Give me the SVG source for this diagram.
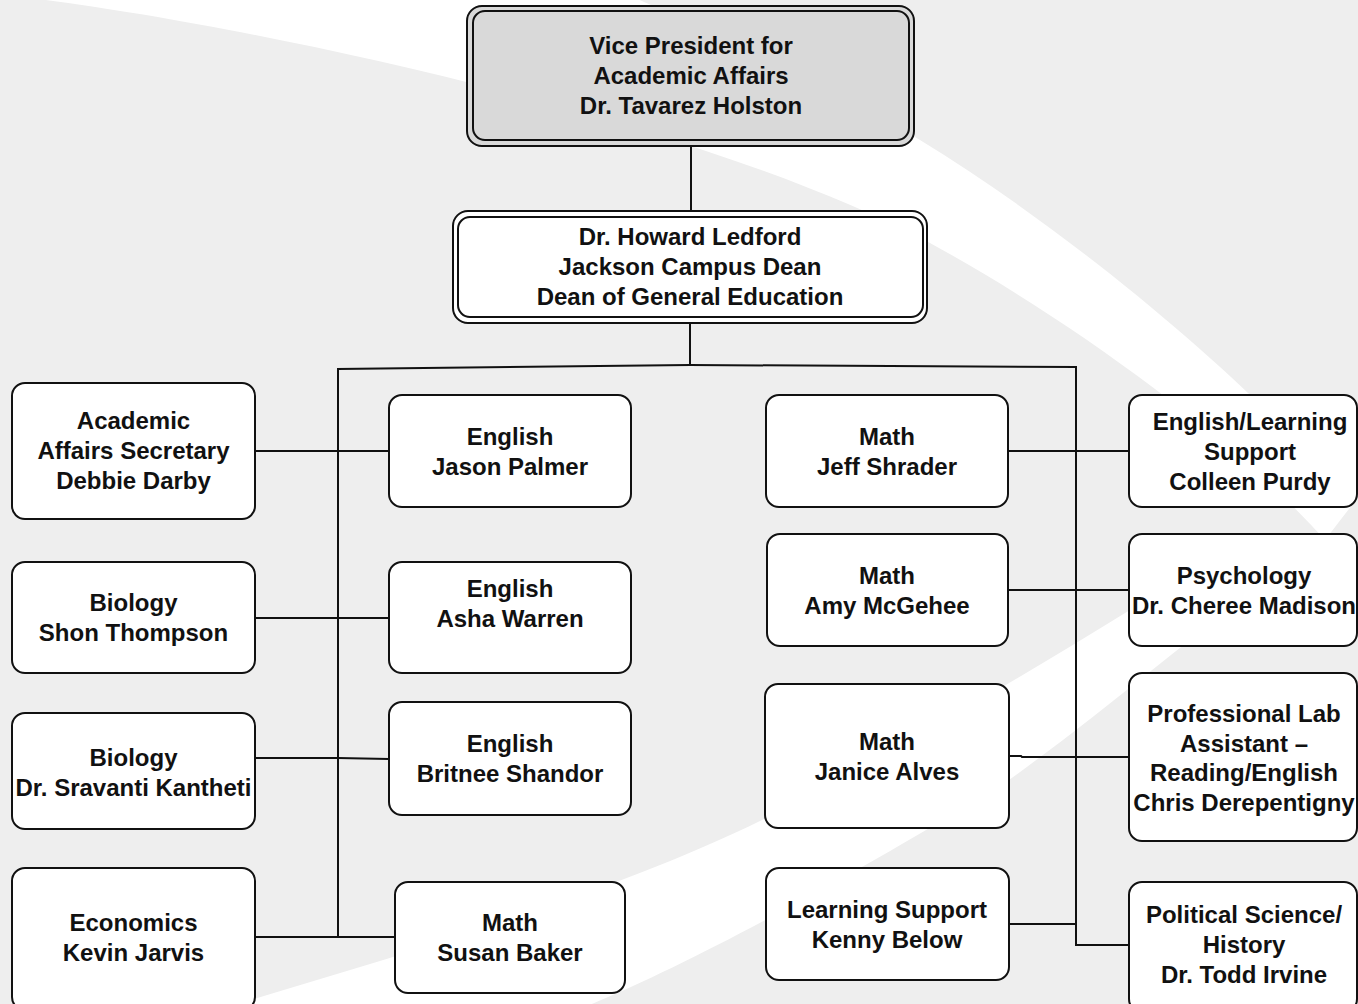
<svg xmlns="http://www.w3.org/2000/svg" width="1358" height="1004" viewBox="0 0 1358 1004">
<style>
.bg{fill:#ffffff;stroke:none}
.box{fill:#ffffff;stroke:#111111;stroke-width:2}
.vp{fill:#d9d9d9;stroke:#111111;stroke-width:2}
.dn{fill:#ffffff;stroke:#111111;stroke-width:2}
.t{font-family:"Liberation Sans",Arial,sans-serif;font-weight:bold;font-size:24px;fill:#111111;text-anchor:middle}
.c{fill:none;stroke:#111111;stroke-width:2}
</style>
<rect x="0" y="0" width="1358" height="1004" fill="#eeeeee"/>
<g id="background">
<path class="bg" d="M30,-2 C250,25 700,120 930,243 C1080,325 1240,445 1325,540 L1352,505 C1290,420 1100,250 920,140 C820,80 720,35 635,-2 Z"/>
<path class="bg" d="M230,1006 C420,950 620,890 762,820 C880,760 1000,690 1130,610 C1220,560 1290,545 1325,540 C1220,610 1120,700 1009,780 C880,860 700,960 587,1006 Z"/>
</g>
<g id="connectors">
<path class="c" d="M691,146 V211"/>
<path class="c" d="M690,323 V365"/>
<path class="c" d="M338,938 V369 L690,365 L1076,367 V945 H1129"/>
<path class="c" d="M255,451 H389"/>
<path class="c" d="M255,618 H389"/>
<path class="c" d="M255,758 H338 L389,759"/>
<path class="c" d="M255,937 H395"/>
<path class="c" d="M1008,451 H1129"/>
<path class="c" d="M1008,590 H1129"/>
<path class="c" d="M1009,756 H1021 L1022,757 H1129"/>
<path class="c" d="M1008,924 H1076"/>
</g>
<g id="vp">
<rect class="vp" x="467" y="6" width="447" height="140" rx="15"/>
<rect class="vp" x="473" y="11" width="436" height="129" rx="12"/>
<text class="t" x="691" y="54"><tspan x="691">Vice President for</tspan><tspan x="691" dy="30">Academic Affairs</tspan><tspan x="691" dy="30">Dr. Tavarez Holston</tspan></text>
</g>
<g id="dean">
<rect class="dn" x="453" y="211" width="474" height="112" rx="15"/>
<rect class="dn" x="458" y="217" width="465" height="100" rx="12"/>
<text class="t" x="690" y="245"><tspan x="690">Dr. Howard Ledford</tspan><tspan x="690" dy="30">Jackson Campus Dean</tspan><tspan x="690" dy="30">Dean of General Education</tspan></text>
</g>
<g id="secretary">
<rect class="box" x="12" y="383" width="243" height="136" rx="13"/>
<text class="t" x="133.5" y="429"><tspan x="133.5">Academic</tspan><tspan x="133.5" dy="30">Affairs Secretary</tspan><tspan x="133.5" dy="30">Debbie Darby</tspan></text>
</g>
<g id="bio-thompson">
<rect class="box" x="12" y="562" width="243" height="111" rx="13"/>
<text class="t" x="133.5" y="611"><tspan x="133.5">Biology</tspan><tspan x="133.5" dy="30">Shon Thompson</tspan></text>
</g>
<g id="bio-kantheti">
<rect class="box" x="12" y="713" width="243" height="116" rx="13"/>
<text class="t" x="133.5" y="766"><tspan x="133.5">Biology</tspan><tspan x="133.5" dy="30">Dr. Sravanti Kantheti</tspan></text>
</g>
<g id="econ-jarvis">
<rect class="box" x="12" y="868" width="243" height="142" rx="13"/>
<text class="t" x="133.5" y="931"><tspan x="133.5">Economics</tspan><tspan x="133.5" dy="30">Kevin Jarvis</tspan></text>
</g>
<g id="eng-palmer">
<rect class="box" x="389" y="395" width="242" height="112" rx="13"/>
<text class="t" x="510" y="445"><tspan x="510">English</tspan><tspan x="510" dy="30">Jason Palmer</tspan></text>
</g>
<g id="eng-warren">
<rect class="box" x="389" y="562" width="242" height="111" rx="13"/>
<text class="t" x="510" y="597"><tspan x="510">English</tspan><tspan x="510" dy="30">Asha Warren</tspan></text>
</g>
<g id="eng-shandor">
<rect class="box" x="389" y="702" width="242" height="113" rx="13"/>
<text class="t" x="510" y="752"><tspan x="510">English</tspan><tspan x="510" dy="30">Britnee Shandor</tspan></text>
</g>
<g id="math-baker">
<rect class="box" x="395" y="882" width="230" height="111" rx="13"/>
<text class="t" x="510" y="931"><tspan x="510">Math</tspan><tspan x="510" dy="30">Susan Baker</tspan></text>
</g>
<g id="math-shrader">
<rect class="box" x="766" y="395" width="242" height="112" rx="13"/>
<text class="t" x="887" y="445"><tspan x="887">Math</tspan><tspan x="887" dy="30">Jeff Shrader</tspan></text>
</g>
<g id="math-mcgehee">
<rect class="box" x="767" y="534" width="241" height="112" rx="13"/>
<text class="t" x="887" y="584"><tspan x="887">Math</tspan><tspan x="887" dy="30">Amy McGehee</tspan></text>
</g>
<g id="math-alves">
<rect class="box" x="765" y="684" width="244" height="144" rx="13"/>
<text class="t" x="887" y="750"><tspan x="887">Math</tspan><tspan x="887" dy="30">Janice Alves</tspan></text>
</g>
<g id="ls-below">
<rect class="box" x="766" y="868" width="243" height="112" rx="13"/>
<text class="t" x="887" y="918"><tspan x="887">Learning Support</tspan><tspan x="887" dy="30">Kenny Below</tspan></text>
</g>
<g id="eng-purdy">
<rect class="box" x="1129" y="395" width="228" height="112" rx="13"/>
<text class="t" x="1250" y="430"><tspan x="1250">English/Learning</tspan><tspan x="1250" dy="30">Support</tspan><tspan x="1250" dy="30">Colleen Purdy</tspan></text>
</g>
<g id="psych-madison">
<rect class="box" x="1129" y="534" width="228" height="112" rx="13"/>
<text class="t" x="1244" y="584"><tspan x="1244">Psychology</tspan><tspan x="1244" dy="30">Dr. Cheree Madison</tspan></text>
</g>
<g id="lab-derepentigny">
<rect class="box" x="1129" y="673" width="228" height="168" rx="13"/>
<text class="t" x="1244" y="722"><tspan x="1244">Professional Lab</tspan><tspan x="1244" dy="29.5">Assistant –</tspan><tspan x="1244" dy="29.5">Reading/English</tspan><tspan x="1244" dy="29.5">Chris Derepentigny</tspan></text>
</g>
<g id="polisci-irvine">
<rect class="box" x="1129" y="882" width="228" height="130" rx="13"/>
<text class="t" x="1244" y="923"><tspan x="1244">Political Science/</tspan><tspan x="1244" dy="30">History</tspan><tspan x="1244" dy="30">Dr. Todd Irvine</tspan></text>
</g>
</svg>
